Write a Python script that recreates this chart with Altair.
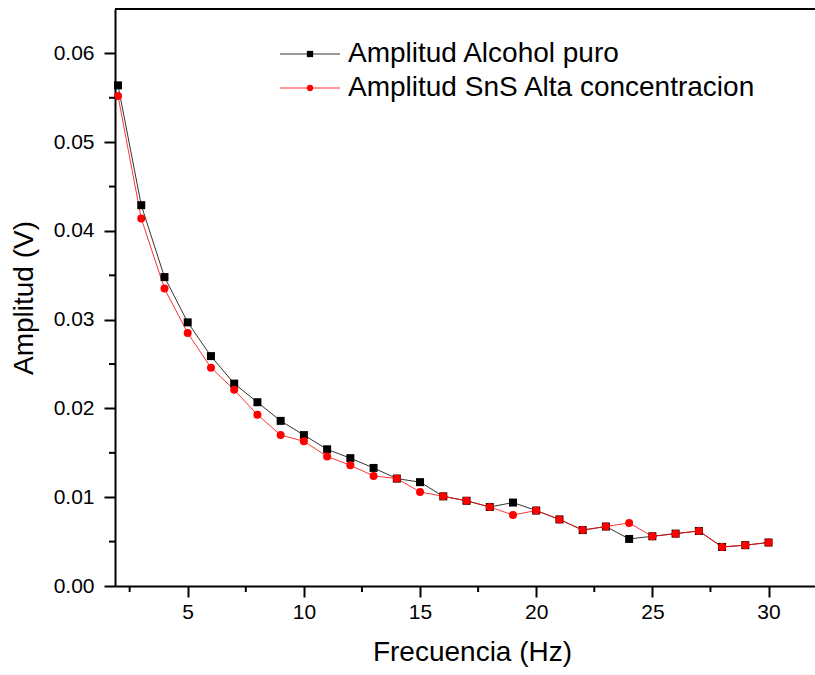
import altair as alt
import pandas as pd

# ---- data ----
freq = list(range(2, 31))
alcohol = [0.0564, 0.0429, 0.0348, 0.0297, 0.0259, 0.0228, 0.0207, 0.0186, 0.0170,
           0.0154, 0.0144, 0.0133, 0.0121, 0.0117, 0.0101, 0.0096, 0.0089, 0.0094,
           0.0085, 0.0075, 0.0063, 0.0067, 0.0053, 0.0056, 0.0059, 0.0062, 0.0044,
           0.0046, 0.0049]
sns = [0.0552, 0.0414, 0.0335, 0.0285, 0.0246, 0.0221, 0.0193, 0.0170, 0.0163,
       0.0146, 0.0136, 0.0124, 0.0121, 0.0106, 0.0101, 0.0096, 0.0089, 0.0080,
       0.0085, 0.0075, 0.0063, 0.0067, 0.0071, 0.0056, 0.0059, 0.0062, 0.0044,
       0.0046, 0.0049]
series_names = ["Amplitud Alcohol puro", "Amplitud SnS Alta concentracion"]
series_colors = ["#000000", "#ff0000"]
series_shapes = ["square", "circle"]
x_ticks = [5, 10, 15, 20, 25, 30]
y_ticks = [0.0, 0.01, 0.02, 0.03, 0.04, 0.05, 0.06]
x_minor = [2.5, 7.5, 12.5, 17.5, 22.5, 27.5]
y_minor = [0.005, 0.015, 0.025, 0.035, 0.045, 0.055]

rows = []
for name, vals in zip(series_names, [alcohol, sns]):
    for f, v in zip(freq, vals):
        rows.append({"Frecuencia": f, "Amplitud": v, "Serie": name})
df = pd.DataFrame(rows)
df_xm = pd.DataFrame({"Frecuencia": x_minor})
df_ym = pd.DataFrame({"Amplitud": y_minor})

FONT = "Liberation Sans"
W, H = 700, 577

xscale = alt.Scale(domain=[1.87, 32.0], nice=False, zero=False)
yscale = alt.Scale(domain=[0, 0.065], nice=False, zero=False)
color_scale = alt.Scale(domain=series_names, range=series_colors)
shape_scale = alt.Scale(domain=series_names, range=series_shapes)

axis_common = dict(grid=False, domainColor="black", domainWidth=2, tickColor="black",
                   tickWidth=2, tickSize=11, labelFontSize=21, labelFont=FONT,
                   labelColor="black", titleFontSize=28, titleFont=FONT,
                   titleFontWeight="normal", titleColor="black")
x_axis = alt.Axis(title="Frecuencia (Hz)", values=x_ticks, format="d", labelPadding=4,
                  titlePadding=16, titleX=357, **axis_common)
y_axis = alt.Axis(title="Amplitud (V)", values=y_ticks, format=".2f", labelPadding=10,
                  titlePadding=15, **axis_common)

X = alt.X("Frecuencia:Q", scale=xscale, axis=x_axis)
Y = alt.Y("Amplitud:Q", scale=yscale, axis=y_axis)
C = alt.Color("Serie:N", scale=color_scale, legend=None)

lines = alt.Chart(df).mark_line(strokeWidth=1, strokeOpacity=0.8).encode(
    x=X, y=Y, color=C, detail="Serie:N")
points = alt.Chart(df).mark_point(filled=True, size=64, opacity=1).encode(
    x=X, y=Y, color=C, shape=alt.Shape("Serie:N", scale=shape_scale, legend=None))

x_minor_ticks = alt.Chart(df_xm).mark_rule(color="black", strokeWidth=2).encode(
    x=X, y=alt.value(H), y2=alt.value(H + 6))
y_minor_ticks = alt.Chart(df_ym).mark_rule(color="black", strokeWidth=2).encode(
    y=Y, x=alt.value(-6), x2=alt.value(0))
top_border = alt.Chart(df_xm).mark_rule(color="black", strokeWidth=2).encode(
    x=alt.value(0), x2=alt.value(W), y=alt.value(0))

# ---- manual legend (line + marker + label) ----
legend_layers = []
for i, (name, col, shp) in enumerate(zip(series_names, series_colors, series_shapes)):
    ldf = pd.DataFrame({"label": [name]})
    ly = 45 + 34 * i
    legend_layers.append(alt.Chart(ldf).mark_rule(color=col, strokeWidth=1, strokeOpacity=0.8).encode(
        x=alt.value(165), x2=alt.value(225), y=alt.value(ly)))
    legend_layers.append(alt.Chart(ldf).mark_point(
        filled=True, shape=shp, size=40, color=col, opacity=1).encode(
        x=alt.value(195), y=alt.value(ly)))
    legend_layers.append(alt.Chart(ldf).mark_text(
        align="left", baseline="middle", font=FONT, fontSize=28, color="black").encode(
        x=alt.value(233), y=alt.value(ly), text="label:N"))

chart = alt.layer(lines, points, x_minor_ticks, y_minor_ticks, top_border,
                  *legend_layers).properties(
    width=W, height=H,
    autosize=alt.AutoSizeParams(type="none"),
    padding={"left": 115, "top": 9, "right": 0, "bottom": 89},
    background="white",
).configure_view(stroke=None)

chart.save("out.html", embed_options={"renderer": "svg", "actions": False})
